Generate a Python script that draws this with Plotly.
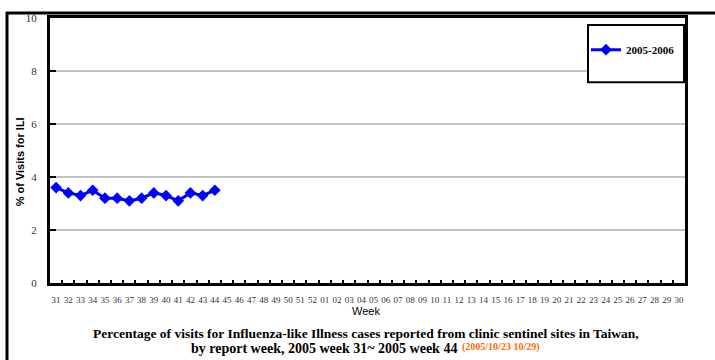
import plotly.graph_objects as go

# Report weeks: 2005 week 31 through 2006 week 30
weeks = [str(w) for w in range(31, 53)] + [f"{w:02d}" for w in range(1, 31)]

# % of visits for ILI, weeks 31-44 of the 2005-2006 season
season_label = "2005-2006"
ili_weeks = ["31", "32", "33", "34", "35", "36", "37", "38", "39", "40", "41", "42", "43", "44"]
ili_values = [3.6, 3.4, 3.3, 3.5, 3.2, 3.2, 3.1, 3.2, 3.4, 3.3, 3.1, 3.4, 3.3, 3.5]

y_ticks = [0, 2, 4, 6, 8, 10]

W, H = 715, 360
L, R, T, B = 50, 30, 15, 77
PW, PH = W - L - R, H - T - B


def px_x(px):
    return (px - L) / PW


def px_y(py):
    return (H - B - py) / PH


SERIF = "Liberation Serif, Times New Roman, serif"
SANS = "Liberation Sans, Arial, sans-serif"

fig = go.Figure()
fig.add_trace(go.Scatter(
    x=ili_weeks, y=ili_values, name=f"<b>{season_label}</b>",
    mode="lines+markers",
    line=dict(color="#0000ff", width=3),
    marker=dict(symbol="diamond", size=9, color="#0000ff"),
))

fig.update_xaxes(
    type="category", categoryorder="array", categoryarray=weeks,
    range=[-0.5, len(weeks) - 0.5],
    tickmode="array", tickvals=weeks, ticktext=weeks,
    tickson="boundaries", ticks="inside", ticklen=3, tickwidth=2, tickcolor="black",
    showgrid=False, zeroline=False,
    showline=True, linecolor="black", linewidth=3, mirror=True,
    tickfont=dict(family=SERIF, size=9, color="#333333"),
    ticklabelstandoff=6, tickangle=0,
)
fig.update_yaxes(
    range=[0, 10], tickvals=y_ticks,
    ticks="inside", ticklen=6, tickwidth=2, tickcolor="black",
    showgrid=True, gridcolor="#c0c0c0", gridwidth=1.5,
    zeroline=False,
    showline=True, linecolor="black", linewidth=3, mirror=True,
    tickfont=dict(family=SERIF, size=11, color="#333333"),
    ticklabelstandoff=8,
)

shapes = [
    # outer chart frame
    dict(type="line", xref="paper", yref="paper", x0=px_x(6), x1=px_x(716),
         y0=px_y(10), y1=px_y(10), line=dict(color="black", width=3)),
    dict(type="line", xref="paper", yref="paper", x0=px_x(7), x1=px_x(7),
         y0=px_y(9), y1=px_y(361), line=dict(color="black", width=3)),
    # legend box
    dict(type="rect", xref="paper", yref="paper", x0=px_x(588), x1=px_x(684),
         y0=px_y(80), y1=px_y(22), line=dict(color="black", width=2),
         fillcolor="white", layer="above"),
]

annotations = [
    dict(text="<b>% of Visits for ILI</b>", textangle=-90,
         xref="paper", yref="paper", x=px_x(20), y=px_y(161),
         xanchor="center", yanchor="middle",
         showarrow=False, font=dict(family=SANS, size=11, color="black")),
    dict(text="Week", xref="paper", yref="paper", x=px_x(366), y=px_y(311),
         xanchor="center", yanchor="middle",
         showarrow=False, font=dict(family=SANS, size=11, color="black")),
    dict(text="<b>Percentage of visits for Influenza-like Illness cases reported from clinic sentinel sites in Taiwan,</b>",
         xref="paper", yref="paper", x=px_x(366), y=px_y(334),
         xanchor="center", yanchor="middle",
         showarrow=False, font=dict(family=SERIF, size=13.5, color="black")),
    dict(text="<b>by report week, 2005 week 31~ 2005 week 44</b>",
         xref="paper", yref="paper", x=px_x(459), y=px_y(349),
         xanchor="right", yanchor="middle",
         showarrow=False, font=dict(family=SERIF, size=14, color="black")),
    dict(text="<b>(2005/10/23 10/29)</b>",
         xref="paper", yref="paper", x=px_x(460), y=px_y(348),
         xanchor="left", yanchor="middle",
         showarrow=False, font=dict(family=SERIF, size=10, color="#ff6a00")),
]

fig.update_layout(
    width=W, height=H,
    margin=dict(l=L, r=R, t=T, b=B),
    paper_bgcolor="white", plot_bgcolor="white",
    showlegend=True,
    legend=dict(x=px_x(586), y=px_y(47), xanchor="left", yanchor="middle",
                bgcolor="rgba(0,0,0,0)", borderwidth=0,
                font=dict(family=SERIF, size=11, color="black"),
                itemwidth=30),
    shapes=shapes, annotations=annotations,
)

fig.write_html("out.html")
